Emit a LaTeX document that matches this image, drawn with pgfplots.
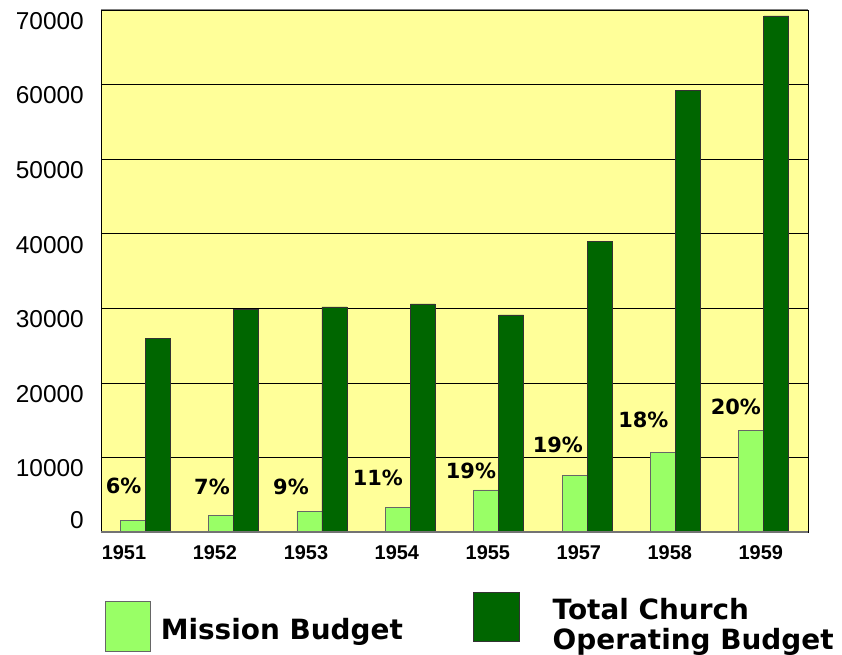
\documentclass[border=0pt]{standalone}
\usepackage{pgfplots}
\pgfplotsset{compat=1.18}
\usepackage{fontspec}
\setmainfont{DejaVu Sans}
\newfontfamily\libsans{Liberation Sans}
\definecolor{bgyellow}{HTML}{FFFF99}
\definecolor{lightg}{HTML}{99FF66}
\definecolor{darkg}{HTML}{006600}
\begin{document}
\begin{tikzpicture}
\useasboundingbox (-101bp,-123bp) rectangle (741bp,532bp);
\begin{axis}[
  at={(0,0)}, anchor=south west,
  scale only axis, width=707bp, height=522bp,
  xmin=-0.5, xmax=7.5, ymin=0, ymax=70000,
  ybar=0pt, bar width=25bp,
  axis background/.style={fill=bgyellow},
  axis line style={black, line width=0.7bp},
  ymajorgrids, grid style={black, line width=0.7bp},
  major tick length=0pt,
  xtick={-0.240,0.789,1.819,2.848,3.878,4.907,5.936,6.966},
  xticklabels={1951,1952,1953,1954,1955,1957,1958,1959},
  xticklabel style={font=\fontsize{20}{22}\selectfont\libsans\bfseries, inner sep=0pt, anchor=north, yshift=-13bp},
  ytick={10000,20000,...,70000},
  extra y ticks={0},
  extra y tick style={yticklabel style={yshift=23bp}},
  scaled y ticks=false,
  /pgf/number format/assume math mode=true,
  yticklabel style={font=\fontsize{24.5}{26}\selectfont\libsans, /pgf/number format/1000 sep={}, inner sep=0pt, anchor=east, xshift=-17bp, yshift=-11bp},
  legend style={draw=none, fill=none, inner sep=0pt, outer sep=0pt,
    at={(axis description cs:0.00566,-0.1149)}, anchor=north west,
    nodes={inner sep=0pt, outer sep=0pt, anchor=west, font=\fontsize{28}{30}\selectfont\bfseries},
    /tikz/every odd column/.append style={column sep=10bp},
    /tikz/every even column/.append style={column sep=70bp}},
  legend columns=2,
]
\addplot[fill=lightg, draw=black!60, line width=0.8bp,
  legend image code/.code={\fill[lightg, draw=black!60, line width=0.8bp] (0bp,-27bp) rectangle (45bp,23bp);}]
  coordinates {(0,1580) (1,2250) (2,2760) (3,3240) (4,5640) (5,7640) (6,10690) (7,13580)};
\addlegendentry[yshift=-5bp]{Mission Budget}
\addplot[fill=darkg, draw=black!80, line width=0.8bp,
  legend image code/.code={\fill[darkg, draw=black!80, line width=0.8bp] (0bp,-17bp) rectangle (46bp,32bp); \path (69bp,0bp);}]
  coordinates {(0,25980) (1,29900) (2,30180) (3,30580) (4,29110) (5,38980) (6,59160) (7,69200)};
\addlegendentry[align=left]{Total Church\\Operating Budget}
\draw[gray, line width=1bp] (rel axis cs:0,1) -- (rel axis cs:1,1);
\draw[gray!90!black, line width=2bp] (rel axis cs:0,0) -- (rel axis cs:1,0);
\begin{scope}[every node/.style={font=\fontsize{21}{23}\selectfont\bfseries, inner sep=0pt}]
\node at (axis cs:-0.245,6240) {6\%};
\node at (axis cs:0.756,6040) {7\%};
\node at (axis cs:1.65,6040) {9\%};
\node at (axis cs:2.633,7300) {11\%};
\node at (axis cs:3.686,8140) {19\%};
\node at (axis cs:4.67,11730) {19\%};
\node at (axis cs:5.637,15090) {18\%};
\node at (axis cs:6.683,16760) {20\%};
\end{scope}
\end{axis}
\end{tikzpicture}
\end{document}
